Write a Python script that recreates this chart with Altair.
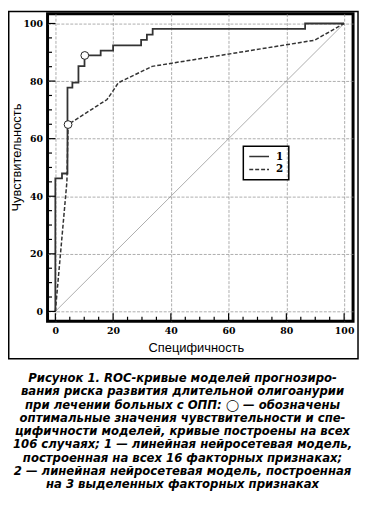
import altair as alt
import pandas as pd

# ROC curve 1 (solid, step): x where the rise happens, y after the rise
c1_x = [0, 0, 2.3, 4.2, 5.9, 8.0, 10.1, 15.7, 20.0, 29.7, 31.7, 33.7, 86.5, 100]
c1_y = [0, 46.2, 47.9, 77.7, 79.5, 85.2, 88.9, 90.6, 92.4, 94.3, 96.1, 98.1, 100, 100]
# ROC curve 2 (dashed)
c2_x = [0, 4.0, 4.4, 17.9, 19.9, 21.8, 33.5, 89.8, 100]
c2_y = [0, 45.0, 64.9, 73.6, 76.5, 79.4, 85.1, 94.2, 100]
# optimal points (circles)
opt_x = [10.2, 4.4]
opt_y = [88.9, 64.9]
# chance diagonal
diag_x = [0, 100]
diag_y = [0, 100]
# axis ticks
major = [0, 20, 40, 60, 80, 100]
minor = [5, 10, 15, 25, 30, 35, 45, 50, 55, 65, 70, 75, 85, 90, 95]
series = ["1", "2"]

caption = [
    "Рисунок 1. ROC-кривые моделей прогнозиро-",
    "вания риска развития длительной олигоанурии",
    "при лечении больных с ОПП: ◯ — обозначены",
    "оптимальные значения чувствительности и спе-",
    "цифичности моделей, кривые построены на всех",
    "106 случаях; 1 — линейная нейросетевая модель,",
    "построенная на всех 16 факторных признаках;",
    "2 — линейная нейросетевая модель, построенная",
    "на 3 выделенных факторных признаках",
]

XS = alt.Scale(domain=[-2.7, 103.1], nice=False, zero=False)
YS = alt.Scale(domain=[-3.4, 103.4], nice=False, zero=False)
DASH = alt.Scale(domain=series, range=[[1, 0], [4, 2]])

x_axis = alt.Axis(
    values=major, grid=True, ticks=False, domain=False, labelFlush=False,
    labelFont="DejaVu Serif", labelFontWeight="bold", labelFontSize=9.5,
    labelColor="black", labelPadding=4.5,
    title="Специфичность", titleFont="Liberation Sans", titleFontSize=13,
    titleFontWeight="normal", titleColor="black", titleX=150, titleY=27,
    titleBaseline="middle", titleAlign="center",
    gridDash=[3, 1.5], gridColor="#8a8a8a", gridWidth=0.7,
)
y_axis = alt.Axis(
    values=major, grid=True, ticks=False, domain=False, labelFlush=False,
    labelFont="DejaVu Serif", labelFontWeight="bold", labelFontSize=9.5,
    labelColor="black", labelPadding=5,
    title="Чувствительность", titleFont="Liberation Sans", titleFontSize=13,
    titleFontWeight="normal", titleColor="black", titleX=-31, titleY=145,
    titleAngle=270, titleBaseline="middle", titleAlign="center",
    gridDash=[3, 1.5], gridColor="#8a8a8a", gridWidth=0.7,
)

diag = alt.Chart(pd.DataFrame({"x": diag_x, "y": diag_y})).mark_line(
    color="#8a8a8a", strokeWidth=0.7
).encode(x=alt.X("x:Q", scale=XS, axis=x_axis), y=alt.Y("y:Q", scale=YS, axis=y_axis))

legend = alt.Legend(
    orient="none", legendX=198, legendY=134, title=None,
    symbolType="stroke", symbolSize=400, symbolStrokeWidth=1.5,
    symbolStrokeColor="#333333", labelFont="DejaVu Serif", labelFontWeight="bold",
    labelFontSize=10.5, labelColor="black", labelOffset=6, padding=5,
    strokeColor="black", clipHeight=11, rowPadding=2,
    labelExpr="datum.label + '\u2002\u2002'",
)

curve1 = alt.Chart(pd.DataFrame({"x": c1_x, "y": c1_y, "s": ["1"] * len(c1_x)})).mark_line(
    interpolate="step-after", color="#333333", strokeWidth=1.8
).encode(
    x=alt.X("x:Q", scale=XS), y=alt.Y("y:Q", scale=YS),
    strokeDash=alt.StrokeDash("s:N", scale=DASH, legend=legend),
)
curve2 = alt.Chart(pd.DataFrame({"x": c2_x, "y": c2_y, "s": ["2"] * len(c2_x)})).mark_line(
    color="#333333", strokeWidth=1.5
).encode(
    x=alt.X("x:Q", scale=XS), y=alt.Y("y:Q", scale=YS),
    strokeDash=alt.StrokeDash("s:N", scale=DASH, legend=legend),
)
opt = alt.Chart(pd.DataFrame({"x": opt_x, "y": opt_y})).mark_point(
    shape="circle", size=62, filled=True, fill="white", stroke="#222222",
    strokeWidth=1, opacity=1
).encode(x=alt.X("x:Q", scale=XS), y=alt.Y("y:Q", scale=YS))

xmaj = alt.Chart(pd.DataFrame({"x": major})).mark_rule(color="black", strokeWidth=1.2).encode(
    x=alt.X("x:Q", scale=XS), y=alt.value(311), y2=alt.value(303))
xmin = alt.Chart(pd.DataFrame({"x": minor})).mark_rule(color="black", strokeWidth=1.2).encode(
    x=alt.X("x:Q", scale=XS), y=alt.value(311), y2=alt.value(306.5))
ymaj = alt.Chart(pd.DataFrame({"y": major})).mark_rule(color="black", strokeWidth=1.2).encode(
    y=alt.Y("y:Q", scale=YS), x=alt.value(0), x2=alt.value(8))
ymin = alt.Chart(pd.DataFrame({"y": minor})).mark_rule(color="black", strokeWidth=1.2).encode(
    y=alt.Y("y:Q", scale=YS), x=alt.value(0), x2=alt.value(4.5))

frame = alt.Chart(pd.DataFrame({"k": [0]})).mark_rect(
    fill="transparent", stroke="black", strokeWidth=1.5
).encode(x=alt.value(-39.25), x2=alt.value(314), y=alt.value(-2.25), y2=alt.value(349))

chart = alt.layer(diag, curve1, curve2, opt, xmaj, xmin, ymaj, ymin, frame).properties(
    width=309, height=311,
    autosize=alt.AutoSizeParams(type="none"),
    padding={"left": 40, "top": 3, "right": 6, "bottom": 172},
    title=alt.TitleParams(
        text=caption, orient="bottom", anchor="middle", font="DejaVu Sans",
        fontSize=11.8, fontWeight="bold", fontStyle="italic", lineHeight=13.4,
        color="black", dx=-18, offset=14,
    ),
).configure_view(stroke="black", strokeWidth=3).configure_legend(strokeWidth=1.5)

chart.save("out.html", embed_options={"renderer": "svg", "actions": False})
